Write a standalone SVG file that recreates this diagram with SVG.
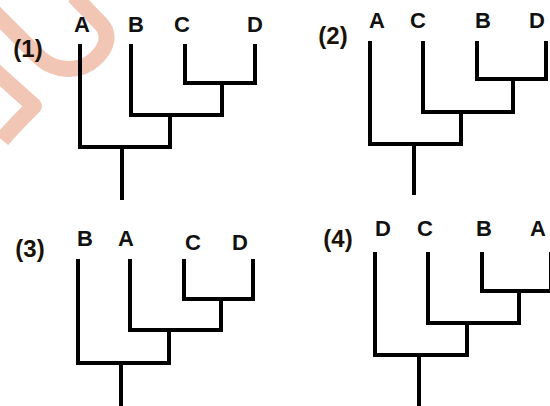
<svg xmlns="http://www.w3.org/2000/svg" width="550" height="406" viewBox="0 0 550 406">
<style>
.lbl{font-family:"Liberation Sans",Arial,sans-serif;font-weight:bold;font-size:22px;fill:#111;text-anchor:middle}
.num{font-family:"Liberation Sans",Arial,sans-serif;font-weight:bold;font-size:24px;fill:#1a1208;text-anchor:middle}
.edge{fill:none;stroke:#000;stroke-width:4;stroke-linejoin:miter;stroke-linecap:butt}
.wm{fill:none;stroke:#f1c6b4;stroke-width:16;stroke-linecap:butt;stroke-linejoin:round}
</style>
<rect width="550" height="406" fill="#fff"/>
<g id="watermark">
<path class="wm" d="M-6,12 L40,58 C56,72 80,73 95,59 C108,47 110,34 101,24 L74,-4"/>
<path class="wm" d="M-6,70 L34,106 C22,118 12,128 2,140"/>
</g>
<g id="connectors">
<g id="tree1">
<path class="edge" d="M80,44 V147 H170 V115"/>
<path class="edge" d="M131,44 V115 H222 V83"/>
<path class="edge" d="M185,44 V83 H255 V44"/>
<path class="edge" d="M122,147 V200"/>
</g>
<g id="tree2">
<path class="edge" d="M370,41 V144 H461 V112"/>
<path class="edge" d="M423,41 V112 H513 V79"/>
<path class="edge" d="M477,41 V79 H546 V41"/>
<path class="edge" d="M414,144 V195"/>
</g>
<g id="tree3">
<path class="edge" d="M78,259 V363 H169 V330"/>
<path class="edge" d="M130,259 V330 H221 V299"/>
<path class="edge" d="M184,259 V299 H253 V259"/>
<path class="edge" d="M121,363 V406"/>
</g>
<g id="tree4">
<path class="edge" d="M375,252 V355 H467 V323"/>
<path class="edge" d="M428,252 V323 H519 V291"/>
<path class="edge" d="M482,252 V291 H551 V252"/>
<path class="edge" d="M419,355 V406"/>
</g>
</g>
<g id="panel1">
<text class="num" x="28" y="57">(1)</text>
<text class="lbl" x="82" y="32">A</text>
<text class="lbl" x="136" y="32">B</text>
<text class="lbl" x="182" y="32">C</text>
<text class="lbl" x="255" y="32">D</text>
</g>
<g id="panel2">
<text class="num" x="333" y="44">(2)</text>
<text class="lbl" x="377" y="28">A</text>
<text class="lbl" x="418" y="28">C</text>
<text class="lbl" x="483" y="28">B</text>
<text class="lbl" x="537" y="28">D</text>
</g>
<g id="panel3">
<text class="num" x="30" y="257">(3)</text>
<text class="lbl" x="85" y="246">B</text>
<text class="lbl" x="126" y="246">A</text>
<text class="lbl" x="193" y="250">C</text>
<text class="lbl" x="240" y="250">D</text>
</g>
<g id="panel4">
<text class="num" x="338" y="247">(4)</text>
<text class="lbl" x="383" y="236">D</text>
<text class="lbl" x="425" y="236">C</text>
<text class="lbl" x="484" y="236">B</text>
<text class="lbl" x="538" y="236">A</text>
</g>
</svg>
